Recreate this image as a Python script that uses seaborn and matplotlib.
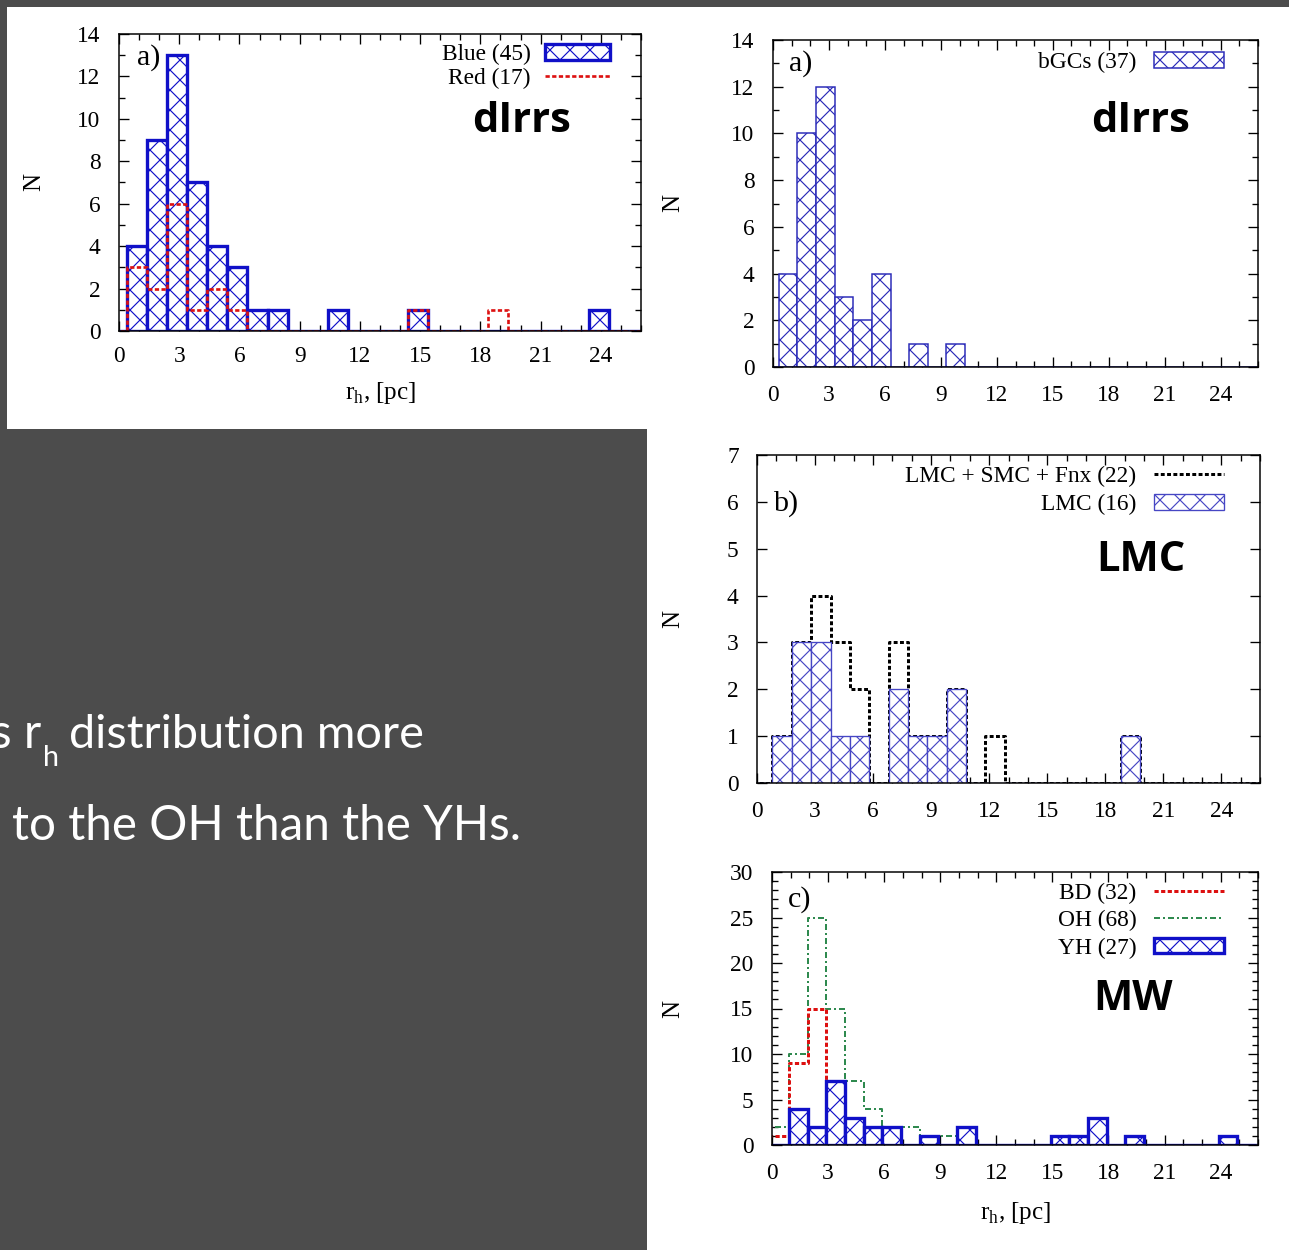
import numpy as np
import pandas as pd
import matplotlib
matplotlib.use("Agg")
import matplotlib.pyplot as plt
import seaborn as sns
from matplotlib.patches import Rectangle, Patch
from matplotlib.lines import Line2D
from matplotlib.ticker import MultipleLocator

# ---------------- data: number of clusters per 1-pc bin of r_h ----------------
# each list starts at the given first bin edge (bins are 1 pc wide)
dirr_first_edge = 0.4
dirr_blue = [4, 9, 13, 7, 4, 3, 1, 1, 0, 0, 1, 0, 0, 0, 1, 0, 0, 0, 0, 0, 0, 0, 0, 1]
dirr_red = [3, 2, 6, 1, 2, 1, 0, 0, 0, 0, 0, 0, 0, 0, 1, 0, 0, 0, 1]

bgc_first_edge = 0.3
bgc_counts = [4, 10, 12, 3, 2, 4, 0, 1, 0, 1]

lmc_first_edge = 0.8
lmc_smc_fnx = [1, 3, 4, 3, 2, 0, 3, 1, 1, 2, 0, 1, 0, 0, 0, 0, 0, 0, 1]
lmc_only = [1, 3, 3, 1, 1, 0, 2, 1, 1, 2, 0, 0, 0, 0, 0, 0, 0, 0, 1]

mw_first_edge = -0.1
mw_bd = [1, 9, 15, 7]
mw_oh = [2, 10, 25, 15, 7, 4, 1, 2, 1, 1]
mw_yh = [0, 4, 2, 7, 3, 2, 2, 0, 1, 0, 2, 0, 0, 0, 0, 1, 1, 3, 0, 1, 0, 0, 0, 0, 1]

x_ticks = [0, 3, 6, 9, 12, 15, 18, 21, 24]

# ---------------- styling ----------------
W, H, DPI = 1289, 1250, 120
BG = "#4c4c4c"
BLUE = "#1010c8"
BLUE_THIN = "#2a2ab8"
BLUE_LIGHT = "#4646c4"
RED = "#dd1010"
GREEN = "#2f8a4f"

sns.set_theme(style="ticks", rc={
    "axes.edgecolor": "black",
    "axes.linewidth": 0.9,
    "xtick.color": "black",
    "ytick.color": "black",
    "text.color": "black",
    "axes.labelcolor": "black",
    "hatch.linewidth": 0.7,
})
plt.rcParams["font.family"] = ["Liberation Serif", "DejaVu Serif"]
plt.rcParams["mathtext.fontset"] = "custom"
plt.rcParams["mathtext.rm"] = "Liberation Serif"

fig = plt.figure(figsize=(W / DPI, H / DPI), dpi=DPI, facecolor=BG)

# white slide panels behind the figures
fig.add_artist(Rectangle((7 / W, 1 - 429 / H), 640 / W, 422 / H,
                         transform=fig.transFigure, facecolor="white",
                         edgecolor="none", zorder=0))
fig.add_artist(Rectangle((647 / W, 0), 642 / W, 1243 / H,
                         transform=fig.transFigure, facecolor="white",
                         edgecolor="none", zorder=0))


def axes_px(l, r, t, b):
    return fig.add_axes([l / W, 1 - b / H, (r - l) / W, (b - t) / H])


def binned(first_edge, counts, upper=27.0):
    edges = np.arange(first_edge - 1.0, upper, 1.0)
    heights = np.zeros(len(edges) - 1)
    heights[1:1 + len(counts)] = counts
    centers = edges[:-1] + 0.5
    return pd.DataFrame({"rh": centers, "n": heights}), [float(e) for e in edges]


def hatched(ax, first_edge, counts, color, lw, z):
    df, edges = binned(first_edge, counts)
    sns.histplot(data=df, x="rh", weights="n", bins=edges, element="bars",
                 fill=True, facecolor="white", edgecolor=color, linewidth=lw,
                 hatch="xx", alpha=1, zorder=z, ax=ax)


def outline(ax, first_edge, counts, color, lw, dashes, z):
    df, edges = binned(first_edge, counts)
    sns.histplot(data=df, x="rh", weights="n", bins=edges, element="step",
                 fill=False, color=color, linewidth=lw, linestyle=(0, dashes),
                 alpha=1, zorder=z, ax=ax)


def frame(ax, ymax, ymajor, yminor, xlabel=True, ylab_dx=-0.17, xlab_dy=-0.17,
          xpad=11):
    ax.set_xlim(0, 26)
    ax.set_ylim(0, ymax)
    ax.set_xticks(x_ticks)
    ax.xaxis.set_minor_locator(MultipleLocator(1))
    ax.yaxis.set_major_locator(MultipleLocator(ymajor))
    if yminor:
        ax.yaxis.set_minor_locator(MultipleLocator(yminor))
    for s in ax.spines.values():
        s.set_visible(True)
        s.set_linewidth(0.9)
        s.set_zorder(5)
    ax.tick_params(which="both", direction="in", top=True, right=True,
                   bottom=True, left=True, width=0.8, labelsize=14)
    ax.tick_params(axis="x", which="both", pad=xpad)
    ax.tick_params(axis="y", which="both", pad=11)
    ax.tick_params(which="major", length=6)
    ax.tick_params(which="minor", length=3.5)
    ax.set_ylabel("N", fontsize=15)
    ax.yaxis.set_label_coords(ylab_dx, 0.5)
    if xlabel:
        ax.set_xlabel(r"r$_\mathregular{h}$, [pc]", fontsize=15)
        ax.xaxis.set_label_coords(0.5, xlab_dy)
    else:
        ax.set_xlabel("")
    ax.set_facecolor("white")


def legend(ax, handles, labels, x, y, spacing, hlen=3.0, pad=0.75):
    ax.legend(handles, labels, loc="upper right", bbox_to_anchor=(x, y),
              bbox_transform=ax.transAxes, frameon=False, markerfirst=False,
              handlelength=hlen, handleheight=0.65, handletextpad=pad,
              labelspacing=spacing, borderpad=0, borderaxespad=0, fontsize=14)


def big(ax, x, y, s):
    ax.text(x, y, s, transform=ax.transAxes, ha="center", va="center",
            fontsize=25, fontweight="bold", family="Open Sans", color="black")


def tag(ax, x, y, s):
    ax.text(x, y, s, transform=ax.transAxes, ha="left", va="center", fontsize=18)


# ---- a) dIrrs: blue and red clusters ----
ax1 = axes_px(119, 641, 34, 331)
hatched(ax1, dirr_first_edge, dirr_blue, BLUE, 2.0, 2.2)
outline(ax1, dirr_first_edge, dirr_red, RED, 1.6, (1.6, 0.9), 2.4)
frame(ax1, 14, 2, 1, xlabel=True, ylab_dx=-74 / 522, xlab_dy=-49 / 297, xpad=9)
legend(ax1,
       [Patch(facecolor="white", edgecolor=BLUE, hatch="xx", linewidth=2.0),
        Line2D([], [], color=RED, lw=1.6, linestyle=(0, (1.6, 0.9)))],
       ["Blue (45)", "Red (17)"], (610 - 119) / 522, (331 - 44) / 297,
       spacing=0.12, hlen=2.8, pad=0.6)
tag(ax1, (137 - 119) / 522, (331 - 58) / 297, "a)")
big(ax1, (522 - 119) / 522, (331 - 122) / 297, "dIrrs")

# ---- a) dIrrs: bGCs ----
ax2 = axes_px(773, 1258, 40, 367)
hatched(ax2, bgc_first_edge, bgc_counts, BLUE_THIN, 0.9, 2.2)
frame(ax2, 14, 2, 1, xlabel=False, ylab_dx=-89 / 485)
legend(ax2,
       [Patch(facecolor="white", edgecolor=BLUE_THIN, hatch="xx", linewidth=0.9)],
       ["bGCs (37)"], (1224 - 773) / 485, (367 - 52) / 327, spacing=0.2)
tag(ax2, (789 - 773) / 485, (367 - 64) / 327, "a)")
big(ax2, (1141 - 773) / 485, (367 - 122) / 327, "dIrrs")

# ---- b) LMC ----
ax3 = axes_px(757, 1260, 455, 783)
outline(ax3, lmc_first_edge, lmc_smc_fnx, "black", 1.8, (1.3, 0.8), 2.2)
hatched(ax3, lmc_first_edge, lmc_only, BLUE_LIGHT, 0.8, 2.4)
frame(ax3, 7, 1, None, xlabel=False, ylab_dx=-73 / 503)
legend(ax3,
       [Line2D([], [], color="black", lw=1.8, linestyle=(0, (1.3, 0.8))),
        Patch(facecolor="white", edgecolor=BLUE_LIGHT, hatch="xx", linewidth=0.8)],
       ["LMC + SMC + Fnx (22)", "LMC (16)"], (1224 - 757) / 503, (783 - 466) / 328,
       spacing=0.3)
tag(ax3, (773 - 757) / 503, (783 - 504) / 328, "b)")
big(ax3, (1141 - 757) / 503, (783 - 561) / 328, "LMC")

# ---- c) MW ----
ax4 = axes_px(772, 1258, 872, 1145)
outline(ax4, mw_first_edge, mw_oh, GREEN, 1.2, (3, 1.5, 1, 1.5), 2.1)
outline(ax4, mw_first_edge, mw_bd, RED, 1.8, (1.4, 0.8), 2.2)
hatched(ax4, mw_first_edge, mw_yh, BLUE, 2.0, 2.4)
frame(ax4, 30, 5, 1, xlabel=True, ylab_dx=-88 / 486, xlab_dy=-55 / 273)
legend(ax4,
       [Line2D([], [], color=RED, lw=1.8, linestyle=(0, (1.4, 0.8))),
        Line2D([], [], color=GREEN, lw=1.2, linestyle=(0, (3, 1.5, 1, 1.5))),
        Patch(facecolor="white", edgecolor=BLUE, hatch="xx", linewidth=2.0)],
       ["BD (32)", "OH (68)", "YH (27)"], (1224 - 772) / 486, (1145 - 883) / 273,
       spacing=0.26)
tag(ax4, (788 - 772) / 486, (1145 - 900) / 273, "c)")
big(ax4, (1133 - 772) / 486, (1145 - 1000) / 273, "MW")

# ---- slide text on the dark background ----
fs = 28.6
fig.canvas.draw()
renderer = fig.canvas.get_renderer()
base1 = 1 - 748 / H
t1 = fig.text(-9 / W, base1, "s r", color="white", fontsize=fs, family="Lato",
              va="baseline")
bb1 = t1.get_window_extent(renderer)
t2 = fig.text((bb1.x1 + 2) / W, base1 - 18 / H, "h", color="white",
              fontsize=fs * 0.6, family="Lato", va="baseline")
bb2 = t2.get_window_extent(renderer)
fig.text((bb2.x1 + 10) / W, base1, "distribution more", color="white",
         fontsize=fs * 0.985, family="Lato", va="baseline")
fig.text(12 / W, 1 - 840 / H, "to the OH than the YHs.", color="white",
         fontsize=fs, family="Lato", va="baseline")

fig.savefig("out.png", dpi=DPI, facecolor=BG)
